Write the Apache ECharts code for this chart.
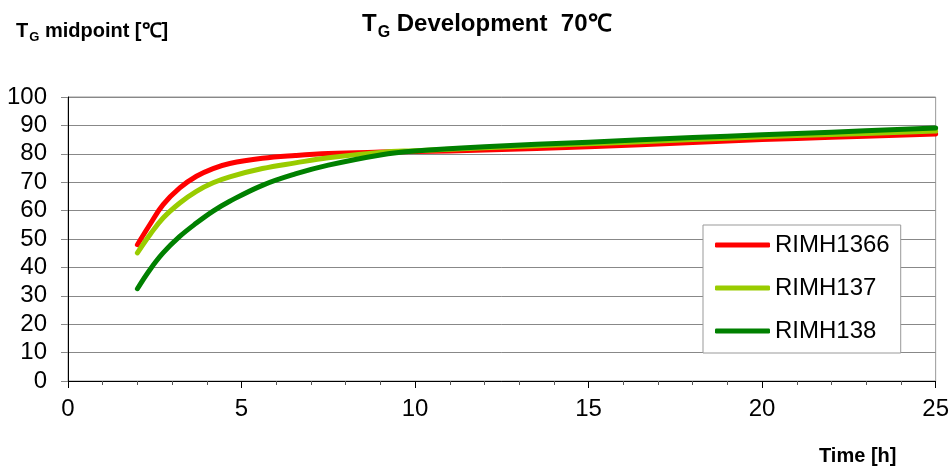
<!DOCTYPE html>
<html>
<head>
<meta charset="utf-8">
<script src="https://cdn.jsdelivr.net/npm/echarts@6/dist/echarts.min.js"></script>
<style>
html,body{margin:0;padding:0;background:#fff;}
#chart{width:952px;height:473px;}
</style>
</head>
<body>
<div id="chart"></div>
<script>
var timeH    = [2,    2.36, 2.74, 3.22, 3.7,  4.18, 4.66, 5.6,  6.55, 7.5,  9,    10,   12,   15,   18,   20,   22,   25];
var rimh1366 = [48.0, 55.1, 62.1, 68.0, 72.1, 74.8, 76.6, 78.4, 79.4, 80.1, 80.6, 80.8, 81.3, 82.5, 84.0, 85.0, 85.8, 87.0];
var rimh137  = [45.1, 51.5, 57.4, 62.7, 66.8, 69.8, 71.9, 74.8, 76.8, 78.6, 80.5, 81.1, 82.1, 83.5, 85.0, 86.0, 86.8, 88.0];
var rimh138  = [32.5, 39.2, 45.1, 50.9, 55.6, 59.8, 63.3, 68.9, 72.9, 76.0, 79.6, 81.0, 82.5, 84.1, 85.7, 86.7, 87.6, 89.1];
var seriesNames = ['RIMH1366', 'RIMH137', 'RIMH138'];
var seriesColors = ['#ff0000', '#99cc00', '#008000'];

function pairs(xs, ys) { return xs.map(function (x, i) { return [x, ys[i]]; }); }
var allValues = [rimh1366, rimh137, rimh138];
var FONT = 'Liberation Sans, Arial, sans-serif';

var chart = echarts.init(document.getElementById('chart'), null, {renderer: 'canvas'});
chart.setOption({
  animation: false,
  backgroundColor: '#ffffff',
  title: [
    {
      text: '{a|T}{b|G}{a| Development  70℃}',
      left: 357, top: 2,
      textStyle: {
        rich: {
          a: {fontFamily: FONT, fontSize: 24, fontWeight: 'bold', color: '#000', lineHeight: 30},
          b: {fontFamily: FONT, fontSize: 16, fontWeight: 'bold', color: '#000', padding: [18, 0, 0, 1]}
        }
      }
    },
    {
      text: '{a|T}{b|G}{a| midpoint [℃]}',
      left: 11, top: 14,
      textStyle: {
        rich: {
          a: {fontFamily: FONT, fontSize: 20, fontWeight: 'bold', color: '#000', lineHeight: 24},
          b: {fontFamily: FONT, fontSize: 13, fontWeight: 'bold', color: '#000', padding: [12, 0, 0, 1]}
        }
      }
    },
    {
      text: 'Time [h]',
      left: 814, top: 441,
      textStyle: {fontFamily: FONT, fontSize: 20, fontWeight: 'bold', color: '#000'}
    }
  ],
  legend: {
    orient: 'vertical',
    left: 703, top: 225,
    padding: [8, 11, 10, 12],
    itemGap: 19,
    itemWidth: 55,
    itemHeight: 5,
    icon: 'roundRect',
    borderColor: '#999',
    borderWidth: 1,
    backgroundColor: '#fff',
    textStyle: {fontFamily: FONT, fontSize: 24, color: '#000', lineHeight: 24},
    data: seriesNames
  },
  grid: {
    left: 68, right: 14, top: 97, bottom: 92,
    show: true, borderColor: '#999', borderWidth: 1, backgroundColor: 'transparent'
  },
  xAxis: {
    type: 'value',
    min: 0, max: 25, interval: 5,
    axisLine: {show: true, lineStyle: {color: '#000', width: 1}},
    axisTick: {show: true, length: 7, lineStyle: {color: '#000'}},
    minorTick: {show: true, splitNumber: 5, length: 4, lineStyle: {color: '#555'}},
    splitLine: {show: false},
    axisLabel: {fontFamily: FONT, fontSize: 24, color: '#000', margin: 16}
  },
  yAxis: {
    type: 'value',
    min: 0, max: 100, interval: 10,
    axisLine: {show: true, lineStyle: {color: '#000', width: 1}},
    axisTick: {show: true, length: 7, lineStyle: {color: '#888'}},
    splitLine: {show: true, lineStyle: {color: '#888', width: 1}},
    axisLabel: {fontFamily: FONT, fontSize: 24, color: '#000', margin: 21}
  },
  series: seriesNames.map(function (name, i) {
    return {
      name: name,
      type: 'line',
      data: pairs(timeH, allValues[i]),
      smooth: 0.4,
      showSymbol: false,
      symbol: 'none',
      color: seriesColors[i],
      lineStyle: {color: seriesColors[i], width: 5, cap: 'round', join: 'round'},
      z: 2 + i
    };
  })
});
</script>
</body>
</html>
